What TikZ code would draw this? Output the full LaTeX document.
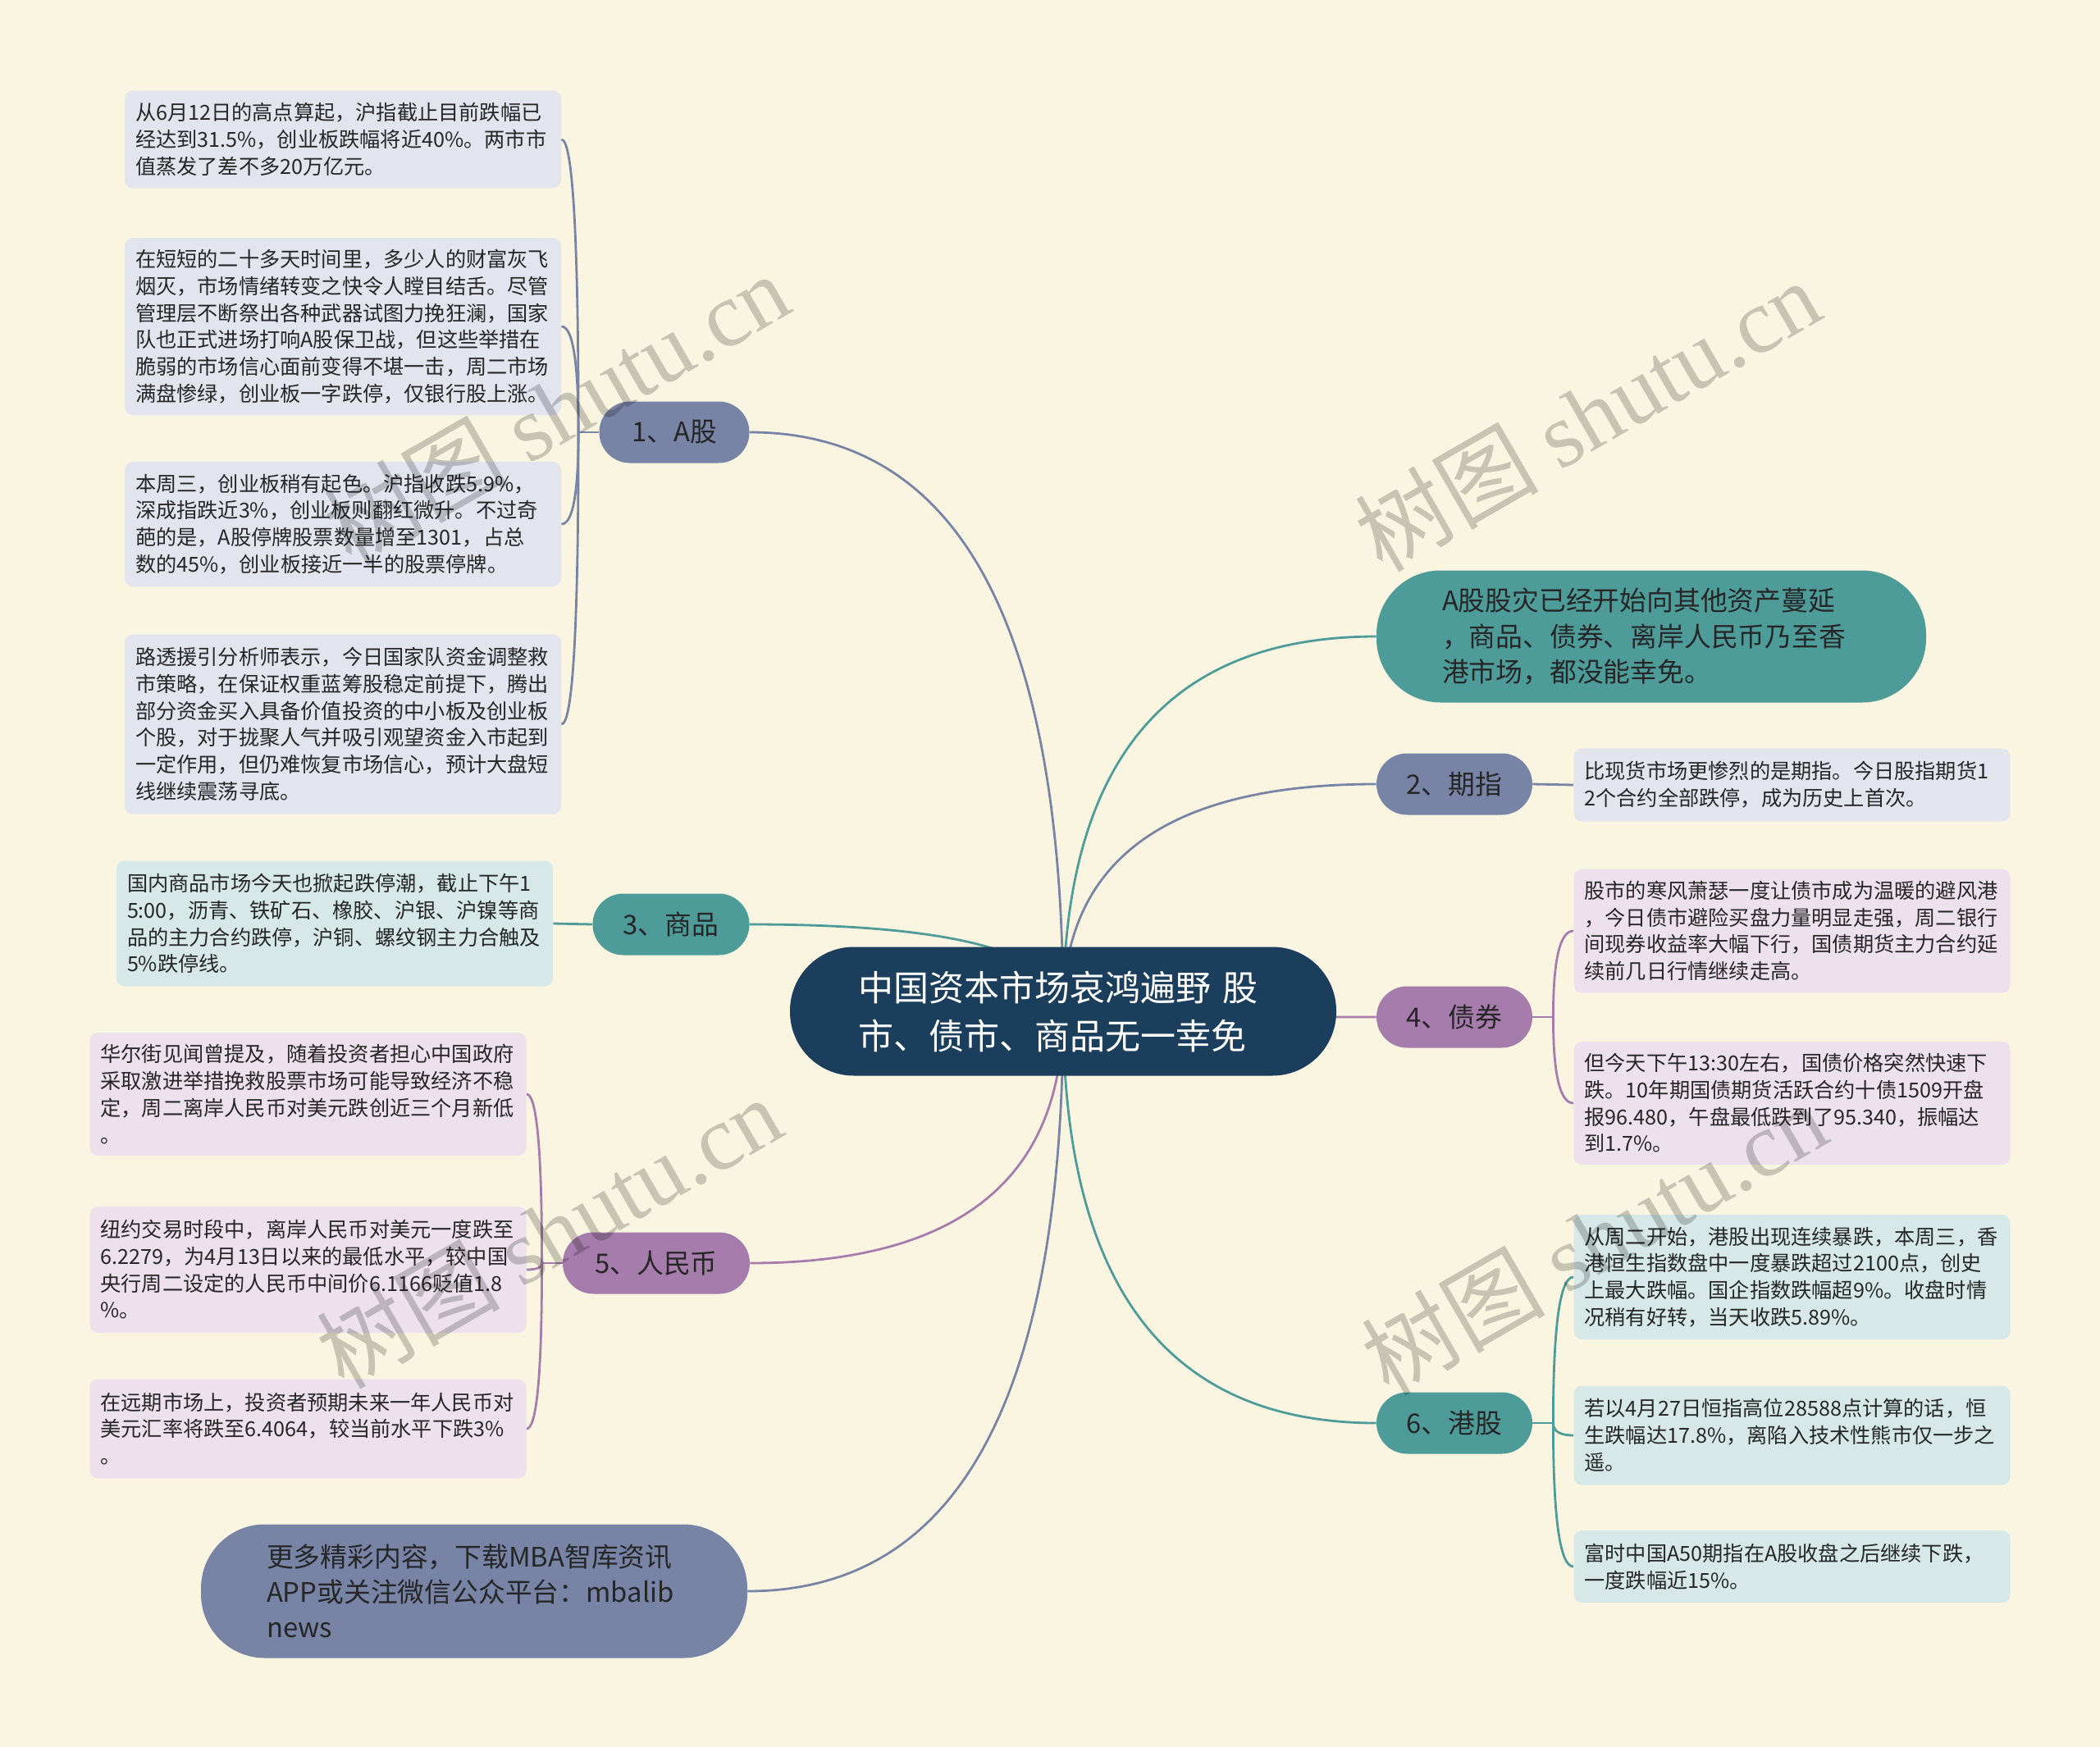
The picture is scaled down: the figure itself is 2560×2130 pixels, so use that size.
\documentclass[tikz,border=0pt]{standalone}
\usepackage{fontspec}
\setmainfont{Noto Sans CJK SC}
\newfontfamily\markfont{Liberation Serif}
\usetikzlibrary{calc}

\definecolor{paper}{RGB}{250,245,225}
\definecolor{navy}{RGB}{26,62,92}
\definecolor{slate}{RGB}{120,132,166}
\definecolor{sea}{RGB}{77,156,153}
\definecolor{plum}{RGB}{165,124,171}
\definecolor{slateleaf}{RGB}{226,229,237}
\definecolor{sealeaf}{RGB}{214,232,232}
\definecolor{plumleaf}{RGB}{236,225,237}
\definecolor{ink}{RGB}{38,38,38}

\pgfdeclarelayer{back}
\pgfsetlayers{back,main}

\tikzset{
  capsule/.style={fill=#1, rounded corners=39pt, align=left, text=ink,
    font=\fontsize{16.4}{21.6}\selectfont},
  topic/.style={fill=#1, rounded corners=18.7pt, minimum height=37.5pt,
    align=center, text=ink, font=\fontsize{16.4}{21.6}\selectfont},
  leaf/.style={fill=#1, rounded corners=5pt, text width=253pt, minimum width=266pt,
    inner xsep=6.5pt, inner ysep=4pt, align=left, text=ink,
    font=\fontsize{12.6}{16.35}\selectfont},
  bend to/.style={to path={.. controls ($(\tikztostart)!0.667!(\tikztostart |- \tikztotarget)$)
    and ($(\tikztotarget)!0.667!(\tikztostart |- \tikztotarget)$) .. (\tikztotarget)}},
  wire/.style={draw=#1, line width=1.4pt},
  watermark/.style={rotate=30, text=black, text opacity=0.2, font=\fontsize{56}{56}\selectfont}
}

\begin{document}
\begin{tikzpicture}[x=0.5pt,y=-0.5pt]
\useasboundingbox (0,0) rectangle (2560,2130);

% centre
\node[capsule=navy, text=white, text width=250pt, minimum width=333pt, minimum height=78.5pt,
  font=\fontsize{21.5}{29.5}\selectfont] (root) at (1296,1233)
  {中国资本市场哀鸿遍野 股\\市、债市、商品无一幸免};

% left side
\node[topic=slate, minimum width=91.5pt] (ga) at (822,527) {1、A股};
\node[topic=sea, minimum width=95.5pt] (gs) at (818,1127) {3、商品};
\node[topic=plum, minimum width=114pt] (gr) at (800,1540) {5、人民币};
\node[capsule=slate, text width=253pt, minimum width=333pt, minimum height=81.5pt] (foot) at (578,1940)
  {更多精彩内容，下载MBA智库资讯\\APP或关注微信公众平台：mbalib\\news};

% right side
\node[capsule=sea, text width=255pt, minimum width=335pt, minimum height=80.5pt] (dis) at (2013,776)
  {A股股灾已经开始向其他资产蔓延\\，商品、债券、离岸人民币乃至香\\港市场，都没能幸免。};
\node[topic=slate, minimum width=95pt] (gq) at (1773,956) {2、期指};
\node[topic=plum, minimum width=95pt] (gb) at (1773,1240) {4、债券};
\node[topic=sea, minimum width=95pt] (gh) at (1773,1735) {6、港股};

% A股 leaves
\node[leaf=slateleaf, minimum height=59.5pt] (a1) at (418,170)
  {从6月12日的高点算起，沪指截止目前跌幅已\\经达到31.5\%，创业板跌幅将近40\%。两市市\\值蒸发了差不多20万亿元。};
\node[leaf=slateleaf, minimum height=108pt] (a2) at (418,398)
  {在短短的二十多天时间里，多少人的财富灰飞\\烟灭，市场情绪转变之快令人瞠目结舌。尽管\\管理层不断祭出各种武器试图力挽狂澜，国家\\队也正式进场打响A股保卫战，但这些举措在\\脆弱的市场信心面前变得不堪一击，周二市场\\满盘惨绿，创业板一字跌停，仅银行股上涨。};
\node[leaf=slateleaf, minimum height=76pt] (a3) at (418,639)
  {本周三，创业板稍有起色。沪指收跌5.9\%，\\深成指跌近3\%，创业板则翻红微升。不过奇\\葩的是，A股停牌股票数量增至1301，占总\\数的45\%，创业板接近一半的股票停牌。};
\node[leaf=slateleaf, minimum height=109.5pt] (a4) at (418,883)
  {路透援引分析师表示，今日国家队资金调整救\\市策略，在保证权重蓝筹股稳定前提下，腾出\\部分资金买入具备价值投资的中小板及创业板\\个股，对于拢聚人气并吸引观望资金入市起到\\一定作用，但仍难恢复市场信心，预计大盘短\\线继续震荡寻底。};

% 商品 leaf
\node[leaf=sealeaf, minimum height=76.5pt] (s1) at (408,1126)
  {国内商品市场今天也掀起跌停潮，截止下午1\\5:00，沥青、铁矿石、橡胶、沪银、沪镍等商\\品的主力合约跌停，沪铜、螺纹钢主力合触及\\5\%跌停线。};

% 人民币 leaves
\node[leaf=plumleaf, minimum height=75pt] (r1) at (375.5,1334)
  {华尔街见闻曾提及，随着投资者担心中国政府\\采取激进举措挽救股票市场可能导致经济不稳\\定，周二离岸人民币对美元跌创近三个月新低\\。};
\node[leaf=plumleaf, minimum height=77pt] (r2) at (375.5,1548)
  {纽约交易时段中，离岸人民币对美元一度跌至\\6.2279，为4月13日以来的最低水平，较中国\\央行周二设定的人民币中间价6.1166贬值1.8\\\%。};
\node[leaf=plumleaf, minimum height=60.5pt] (r3) at (375.5,1742)
  {在远期市场上，投资者预期未来一年人民币对\\美元汇率将跌至6.4064，较当前水平下跌3\%\\。};

% 期指 leaf
\node[leaf=slateleaf, minimum height=44.5pt] (q1) at (2184.5,957)
  {比现货市场更惨烈的是期指。今日股指期货1\\2个合约全部跌停，成为历史上首次。};

% 债券 leaves
\node[leaf=plumleaf, minimum height=75.5pt] (b1) at (2184.5,1135)
  {股市的寒风萧瑟一度让债市成为温暖的避风港\\，今日债市避险买盘力量明显走强，周二银行\\间现券收益率大幅下行，国债期货主力合约延\\续前几日行情继续走高。};
\node[leaf=plumleaf, minimum height=75pt] (b2) at (2184.5,1345)
  {但今天下午13:30左右，国债价格突然快速下\\跌。10年期国债期货活跃合约十债1509开盘\\报96.480，午盘最低跌到了95.340，振幅达\\到1.7\%。};

% 港股 leaves
\node[leaf=sealeaf, minimum height=76pt] (h1) at (2184.5,1557)
  {从周二开始，港股出现连续暴跌，本周三，香\\港恒生指数盘中一度暴跌超过2100点，创史\\上最大跌幅。国企指数跌幅超9\%。收盘时情\\况稍有好转，当天收跌5.89\%。};
\node[leaf=sealeaf, minimum height=60.5pt] (h2) at (2184.5,1750)
  {若以4月27日恒指高位28588点计算的话，恒\\生跌幅达17.8\%，离陷入技术性熊市仅一步之\\遥。};
\node[leaf=sealeaf, minimum height=44pt] (h3) at (2184.5,1910)
  {富时中国A50期指在A股收盘之后继续下跌，\\一度跌幅近15\%。};

% junctions of the brackets
\coordinate (aj) at ([xshift=-12.5pt]ga.west);
\coordinate (rj) at ([xshift=-12.5pt]gr.west);
\coordinate (bj) at ([xshift=12.5pt]gb.east);
\coordinate (hj) at ([xshift=12.5pt]gh.east);

\begin{pgfonlayer}{back}
\fill[paper] (0,0) rectangle (2560,2130);
% centre to topics
\draw[wire=slate, bend to] (root.center) to (ga.east);
\draw[wire=sea, bend to] (root.center) to (gs.east);
\draw[wire=plum, bend to] (root.center) to (gr.east);
\draw[wire=slate, bend to] (root.center) to (foot.east);
\draw[wire=sea, bend to] (root.center) to (dis.west);
\draw[wire=slate, bend to] (root.center) to (gq.west);
\draw[wire=plum, bend to] (root.center) to (gb.west);
\draw[wire=sea, bend to] (root.center) to (gh.west);
% topics to leaves
\draw[wire=slate] (ga.west) -- (aj);
\draw[wire=slate, bend to] (aj) to (a1.east);
\draw[wire=slate, bend to] (aj) to (a2.east);
\draw[wire=slate, bend to] (aj) to (a3.east);
\draw[wire=slate, bend to] (aj) to (a4.east);
\draw[wire=sea] (gs.west) -- (s1.east);
\draw[wire=plum] (gr.west) -- (rj);
\draw[wire=plum, bend to] (rj) to (r1.east);
\draw[wire=plum, bend to] (rj) to (r2.east);
\draw[wire=plum, bend to] (rj) to (r3.east);
\draw[wire=slate] (gq.east) -- (q1.west);
\draw[wire=plum] (gb.east) -- (bj);
\draw[wire=plum, bend to] (bj) to (b1.west);
\draw[wire=plum, bend to] (bj) to (b2.west);
\draw[wire=sea] (gh.east) -- (hj);
\draw[wire=sea, bend to] (hj) to (h1.west);
\draw[wire=sea, bend to] (hj) to (h2.west);
\draw[wire=sea, bend to] (hj) to (h3.west);
\end{pgfonlayer}

% watermarks
\node[watermark] (wm1) at (678,498) {树图 {\markfont shutu.cn}};
\node[watermark] (wm2) at (1935,506) {树图 {\markfont shutu.cn}};
\node[watermark] (wm3) at (669,1502) {树图 {\markfont shutu.cn}};
\node[watermark] (wm4) at (1943,1510) {树图 {\markfont shutu.cn}};
\end{tikzpicture}
\end{document}
